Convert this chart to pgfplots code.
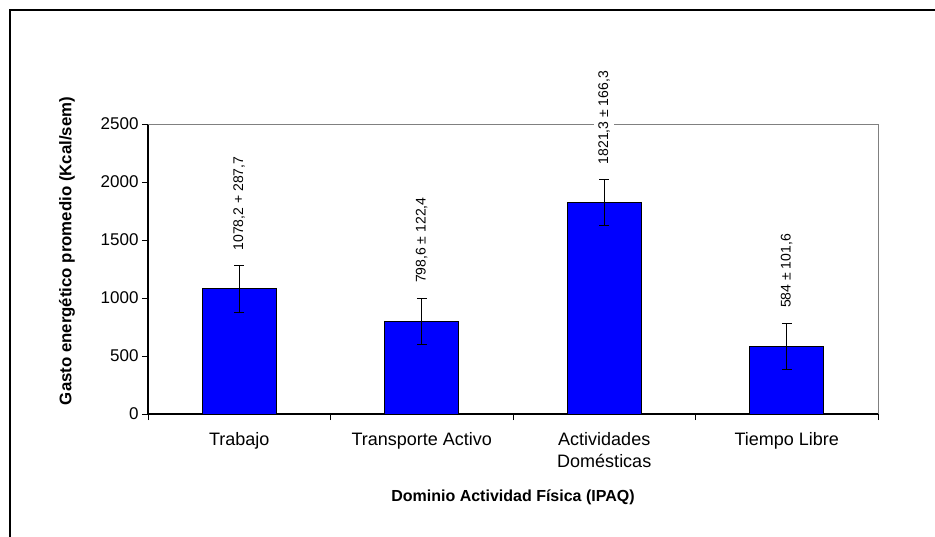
\documentclass[border=0pt]{standalone}
\usepackage{pgfplots}
\pgfplotsset{compat=1.18}
\usepackage{pgfplotstable}
\usepackage{fontspec}
\setmainfont{Liberation Sans}

\definecolor{barblue}{RGB}{0,0,255}
\definecolor{framegray}{RGB}{128,128,128}

% gasto energetico por dominio (IPAQ)
\pgfplotstableread[col sep=semicolon]{
x;y;e;lab
0;1078.2;200;1078,2 + 287,7
1;798.6;200;798,6 ± 122,4
2;1821.3;200;1821,3 ± 166,3
3;584;200;584 ± 101,6
}\gasto

\begin{document}
\begin{tikzpicture}
\useasboundingbox (0,0) rectangle (935pt,-537pt);
\draw[line width=2pt] (10pt,-540pt) -- (10pt,-10pt) -- (940pt,-10pt);
\begin{axis}[
    at={(148pt,-414pt)}, anchor=south west,
    scale only axis,
    width=730pt, height=290pt,
    xmin=-0.5, xmax=3.5,
    ymin=0, ymax=2500,
    clip=false,
    axis x line*=bottom,
    axis y line*=left,
    axis line style={black, line width=1.2pt},
    tick align=outside,
    xtick={0,1,2,3},
    xticklabels={Trabajo, Transporte Activo, {Actividades\\Domésticas}, Tiempo Libre},
    major x tick style={draw=none},
    minor xtick={-0.5,0.5,1.5,2.5,3.5},
    ytick={0,500,...,2500},
    tick style={black, line width=1pt},
    major tick length=6pt, minor tick length=6pt,
    /pgf/number format/assume math mode=true,
    /pgf/number format/1000 sep={},
    x tick label style={font=\fontsize{18}{22}\selectfont, align=center, anchor=north, yshift=-9pt},
    y tick label style={font=\fontsize{17}{20}\selectfont},
    xlabel={Dominio Actividad Física (IPAQ)},
    ylabel={Gasto energético promedio (Kcal/sem)},
    xlabel style={font=\bfseries\fontsize{16}{19}\selectfont, at={(rel axis cs:0.5,-0.286)}, anchor=center},
    ylabel style={font=\bfseries\fontsize{16.8}{20}\selectfont, at={(rel axis cs:-0.111,0.562)}, anchor=center},
    ]
    \draw[framegray, line width=1pt] (rel axis cs:0,1) -- (rel axis cs:1,1) -- (rel axis cs:1,0);
    \addplot[ybar, bar width=74pt, fill=barblue, draw=black, line width=1pt,
        error bars/.cd, y dir=both, y explicit,
        error bar style={black, line width=1pt},
        error mark options={rotate=90, black, mark size=5pt, line width=1pt}]
        table[x=x, y=y, y error=e] {\gasto};
    \addplot[draw=none, mark=none, point meta=explicit symbolic, nodes near coords,
        nodes near coords style={rotate=90, anchor=west, xshift=14pt, fill=white,
            inner xsep=1pt, inner ysep=4pt, font=\fontsize{14}{16}\selectfont}]
        table[x=x, y expr=\thisrow{y}+\thisrow{e}, meta=lab] {\gasto};
\end{axis}
\end{tikzpicture}
\end{document}
